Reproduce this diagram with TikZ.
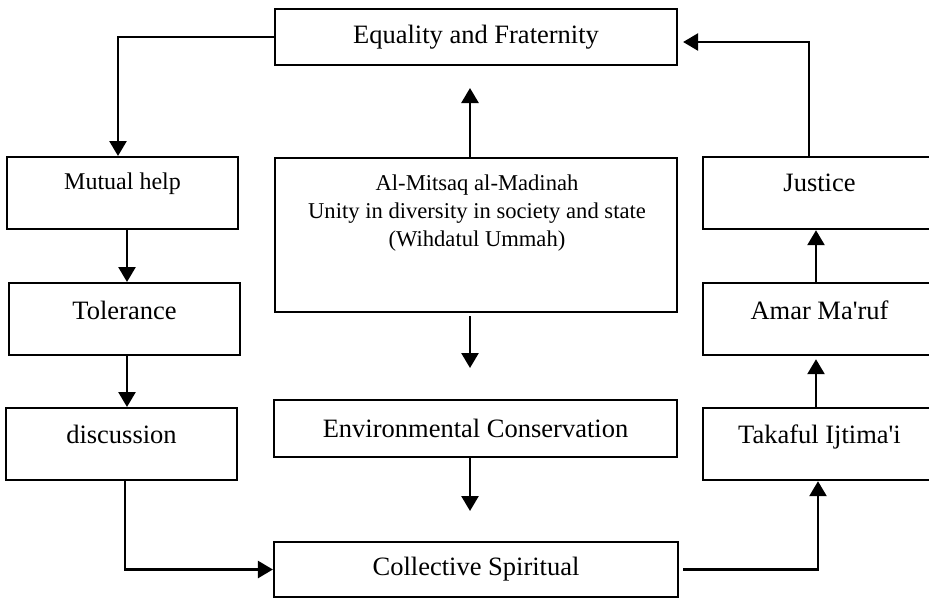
\documentclass[tikz,border=0pt]{standalone}
\usepackage{fontspec}
\setmainfont{Liberation Serif}
\usetikzlibrary{arrows.meta}
\begin{document}
\begin{tikzpicture}[x=1pt,y=-1pt,
  box/.style={draw, line width=2.2pt, inner sep=0pt, font=\fontsize{26.5}{32}\selectfont},
  sidebox/.style={box, minimum width=231pt, anchor=north},
  rightbox/.style={sidebox, minimum width=233pt},
  arr/.style={line width=2.6pt, -{Triangle[width=17pt,length=15pt]}}]
\useasboundingbox (0,0) rectangle (929,598);
\clip (0,0) rectangle (929,598);
% centre column
\node[box, minimum width=402pt, minimum height=56pt] (eq) at (476,37) {Equality and Fraternity};
\node[box, minimum width=402pt, minimum height=154pt] (mitsaq) at (476,235) {};
\node[inner sep=0pt, anchor=north, align=center, font=\fontsize{22.6}{28}\selectfont] (mitsaqtext) at (477,174.6)
  {Al-Mitsaq al-Madinah\\Unity in diversity in society and state\\(Wihdatul Ummah)};
\node[box, minimum width=403pt, minimum height=57pt] (env) at (475.5,428.5) {Environmental Conservation};
\node[box, minimum width=404pt, minimum height=55pt] (coll) at (476,569.5) {Collective Spiritual};
% left column
\node[sidebox, font=\fontsize{24}{29}\selectfont, text height=32pt, text depth=40pt] (mutual) at (122.5,156) {Mutual help};
\node[sidebox, text height=36pt, text depth=36pt] (tol) at (124.5,282) {Tolerance};
\node[sidebox, text height=35pt, text depth=37pt] (disc) at (121.5,407) {discussion};
% right column
\node[rightbox, text height=34pt, text depth=38pt] (just) at (819.5,156) {Justice};
\node[rightbox, text height=36pt, text depth=36pt] (amar) at (819.5,282) {Amar Ma\textquotesingle ruf};
\node[rightbox, text height=35pt, text depth=37pt] (tak) at (819.5,407) {Takaful Ijtima\textquotesingle i};
% free arrow ends
\coordinate (upTip) at (470,88);
\coordinate (downTipA) at (470,368);
\coordinate (downTipB) at (470,511);
% connectors
\draw[arr] (eq.west) -| ([xshift=-4.5pt]mutual.north);
\draw[arr] ([xshift=4.5pt]mutual.south) -- ([xshift=2.5pt]tol.north);
\draw[arr] ([xshift=2.5pt]tol.south) -- ([xshift=5.5pt]disc.north);
\draw[arr] ([xshift=3.5pt]disc.south) |- (coll.west);
\draw[arr] ([xshift=4pt]coll.east) -| ([xshift=-1.5pt]tak.south);
\draw[arr] ([xshift=-3.5pt]tak.north) -- ([xshift=-3.5pt,yshift=-3pt]amar.south);
\draw[arr] ([xshift=-3.5pt]amar.north) -- ([xshift=-3.5pt]just.south);
\draw[arr] ([xshift=-10.5pt]just.north) |- ([xshift=5pt,yshift=-5pt]eq.east);
\draw[arr] ([xshift=-6pt]mitsaq.north) -- (upTip);
\draw[arr] ([xshift=-6pt,yshift=-3pt]mitsaq.south) -- (downTipA);
\draw[arr] ([xshift=-5.5pt]env.south) -- (downTipB);
\end{tikzpicture}
\end{document}
